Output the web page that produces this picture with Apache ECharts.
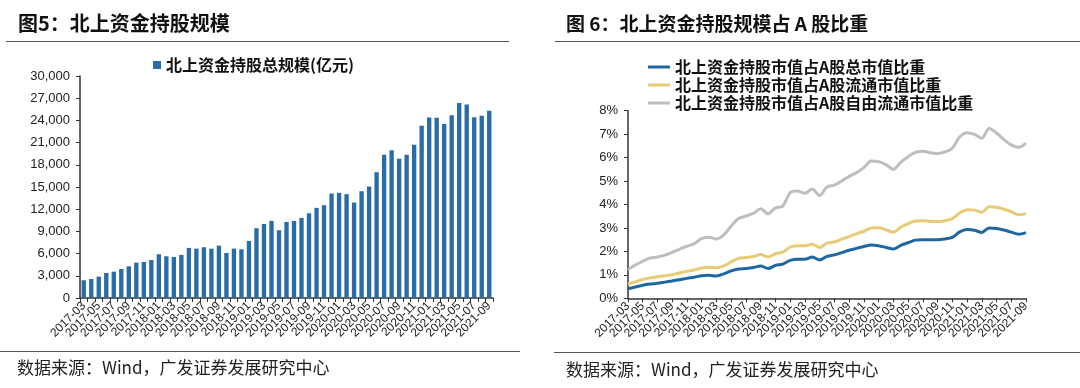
<!DOCTYPE html>
<html>
<head>
<meta charset="utf-8">
<script src="https://cdn.jsdelivr.net/npm/echarts@6/dist/echarts.min.js"></script>
<style>
html,body{margin:0;padding:0;background:#fff;}
#c{width:1080px;height:388px;}
</style>
</head>
<body>
<div id="c"></div>
<script>
// ---- data ----
const months = [];
(function(){ let y=2017,m=3; for(let i=0;i<55;i++){ months.push(y+'-'+(m<10?'0':'')+m); m++; if(m>12){m=1;y++;} } })();

const holdingScale = [2400,2570,2890,3380,3560,3920,4280,4780,4870,5140,
  5910,5640,5550,5820,6770,6670,6860,6670,7080,6090,
  6670,6590,7710,9430,10010,10420,9160,10280,10420,10820,
  11450,12180,12540,14120,14210,14030,12900,14430,15060,17000,
  19350,19980,18810,19350,20700,23270,24400,24350,23500,24710,
  26340,26160,24440,24620,25300];

const shareTotal = [0.41,0.48,0.56,0.61,0.64,0.69,0.74,0.79,0.85,0.90,
  0.96,0.98,0.95,1.04,1.17,1.25,1.27,1.31,1.38,1.27,
  1.40,1.46,1.62,1.67,1.66,1.76,1.63,1.79,1.85,1.95,
  2.05,2.13,2.21,2.27,2.24,2.17,2.10,2.26,2.37,2.48,
  2.50,2.50,2.50,2.53,2.60,2.83,2.93,2.90,2.81,3.00,
  2.98,2.91,2.82,2.73,2.80];

const shareFloat = [0.61,0.70,0.80,0.87,0.92,0.96,1.01,1.08,1.15,1.21,
  1.29,1.32,1.30,1.38,1.55,1.70,1.74,1.78,1.87,1.76,
  1.90,1.97,2.18,2.24,2.24,2.31,2.17,2.35,2.40,2.52,
  2.63,2.75,2.86,3.00,3.01,2.92,2.82,3.03,3.18,3.30,
  3.31,3.28,3.27,3.31,3.40,3.64,3.78,3.76,3.67,3.90,
  3.88,3.80,3.69,3.56,3.61];

const shareFreeFloat = [1.22,1.42,1.58,1.72,1.76,1.84,1.96,2.10,2.22,2.33,
  2.55,2.60,2.53,2.70,3.08,3.40,3.51,3.62,3.82,3.60,
  3.85,3.93,4.50,4.58,4.48,4.66,4.38,4.75,4.83,5.00,
  5.20,5.36,5.57,5.86,5.83,5.70,5.50,5.80,6.04,6.22,
  6.27,6.21,6.18,6.24,6.40,6.88,7.06,6.99,6.83,7.24,
  7.05,6.77,6.54,6.44,6.62];

const leftTitle = '图5：北上资金持股规模';
const rightTitle = '图 6：北上资金持股规模占 A 股比重';
const sourceText = '数据来源：Wind，广发证券发展研究中心';
const barName = '北上资金持股总规模(亿元)';
const lineNames = ['北上资金持股市值占A股总市值比重','北上资金持股市值占A股流通市值比重','北上资金持股市值占A股自由流通市值比重'];

// ---- chart ----
const CJK = '"Noto Sans CJK SC", sans-serif';
const NUM = '"Liberation Sans", Arial, sans-serif';
const chart = echarts.init(document.getElementById('c'), null, {renderer:'canvas'});

const fmtThousands = v => String(v).replace(/\B(?=(\d{3})+(?!\d))/g, ',');

// Labels every 2 months, split over two coincident axes (phase 0 and phase 2 of a 4-month cycle)
// so that the library does not drop overlapping neighbours.
function labelAxis(grid, boundaryGap, phase, main){
  return {
    type:'category', gridIndex:grid, data:months, boundaryGap:boundaryGap, position:'bottom',
    axisLine:{show:main, lineStyle:{color:'#333', width:1.5}},
    axisTick:{show:main, interval: boundaryGap ? 0 : 1, length:4, lineStyle:{color:'#333'}},
    axisLabel:{interval:(i)=> i % 4 === phase, rotate:45, hideOverlap:false,
      fontFamily:NUM, fontSize:12, color:'#222', margin:6}
  };
}

chart.setOption({
  animation:false,
  backgroundColor:'#fff',
  graphic:[
    {type:'text', left:18, top:13, style:{text:leftTitle, font:'bold 20px '+CJK, fill:'#111'}},
    {type:'text', left:566, top:14, style:{text:rightTitle, font:'bold 19px '+CJK, fill:'#111'}},
    {type:'line', shape:{x1:6,y1:41.5,x2:509,y2:41.5}, style:{stroke:'#555',lineWidth:1.2}},
    {type:'line', shape:{x1:555,y1:41.5,x2:1080,y2:41.5}, style:{stroke:'#555',lineWidth:1.2}},
    {type:'line', shape:{x1:0,y1:351.5,x2:520,y2:351.5}, style:{stroke:'#555',lineWidth:1.2}},
    {type:'line', shape:{x1:554,y1:352.5,x2:1080,y2:352.5}, style:{stroke:'#555',lineWidth:1.2}},
    {type:'text', left:17, top:359, style:{text:sourceText, font:'17px '+CJK, fill:'#222'}},
    {type:'text', left:566, top:361, style:{text:sourceText, font:'17px '+CJK, fill:'#222'}}
  ],
  legend:[
    {data:[barName], left:148, top:52, icon:'rect', itemWidth:8, itemHeight:8, itemGap:6,
     textStyle:{fontFamily:CJK, fontSize:16, fontWeight:'bold', color:'#111'}},
    {data:lineNames, orient:'vertical', left:643, top:53, icon:'rect', itemWidth:22, itemHeight:3, itemGap:0,
     textStyle:{fontFamily:CJK, fontSize:16, fontWeight:'bold', color:'#111', lineHeight:18}}
  ],
  grid:[
    {left:80, top:76, width:413, height:222, containLabel:false},
    {left:628, top:110.7, width:398, height:187.6, containLabel:false}
  ],
  xAxis:[
    labelAxis(0, true, 0, true),
    labelAxis(1, false, 0, true),
    labelAxis(0, true, 2, false),
    labelAxis(1, false, 2, false)
  ],
  yAxis:[
    {type:'value', gridIndex:0, min:0, max:30000, interval:3000,
     axisLine:{show:true, lineStyle:{color:'#333', width:1.5}},
     axisTick:{show:true, length:4, lineStyle:{color:'#333'}},
     splitLine:{show:false},
     axisLabel:{fontFamily:NUM, fontSize:13, color:'#222', margin:10, formatter:fmtThousands}},
    {type:'value', gridIndex:1, min:0, max:8, interval:1,
     axisLine:{show:true, lineStyle:{color:'#333', width:1.5}},
     axisTick:{show:true, length:4, lineStyle:{color:'#333'}},
     splitLine:{show:false},
     axisLabel:{fontFamily:NUM, fontSize:13, color:'#222', margin:10, formatter:'{value}%'}}
  ],
  series:[
    {name:barName, type:'bar', xAxisIndex:0, yAxisIndex:0, data:holdingScale,
     barCategoryGap:'42%', itemStyle:{color:'#2A6CA6'}},
    {name:lineNames[0], type:'line', xAxisIndex:1, yAxisIndex:1, data:shareTotal,
     smooth:0.3, symbol:'none', lineStyle:{width:3, color:'#1F67A3'}, itemStyle:{color:'#1F67A3'}},
    {name:lineNames[1], type:'line', xAxisIndex:1, yAxisIndex:1, data:shareFloat,
     smooth:0.3, symbol:'none', lineStyle:{width:3, color:'#E8CB74'}, itemStyle:{color:'#E8CB74'}},
    {name:lineNames[2], type:'line', xAxisIndex:1, yAxisIndex:1, data:shareFreeFloat,
     smooth:0.3, symbol:'none', lineStyle:{width:3, color:'#BEBEBE'}, itemStyle:{color:'#BEBEBE'}}
  ]
});
</script>
</body>
</html>
